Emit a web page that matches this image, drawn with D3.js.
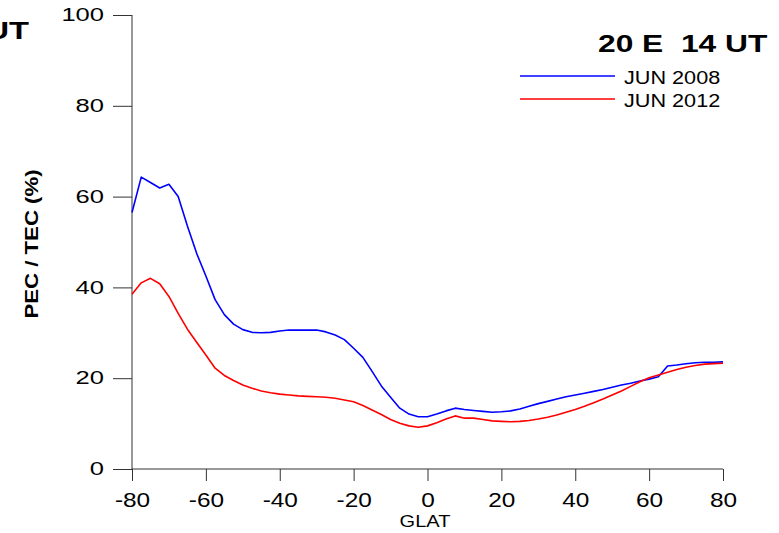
<!DOCTYPE html>
<html>
<head>
<meta charset="utf-8">
<script src="https://cdn.jsdelivr.net/npm/d3@7"></script>
<style>
  body { margin: 0; background: #fff; }
  svg { display: block; font-family: "Liberation Sans", Arial, sans-serif; }
  text { white-space: pre; }
</style>
</head>
<body>
<svg id="chart" width="779" height="533"></svg>
<script>
// geographic latitude, every 2.5 deg
const glat = [-80, -77.5, -75, -72.5, -70, -67.5, -65, -62.5, -60, -57.5, -55, -52.5, -50,
  -47.5, -45, -42.5, -40, -37.5, -35, -32.5, -30, -27.5, -25, -22.5, -20, -17.5, -15, -12.5,
  -10, -7.5, -5, -2.5, 0, 2.5, 5, 7.5, 10, 12.5, 15, 17.5, 20, 22.5, 25, 27.5, 30, 32.5, 35,
  37.5, 40, 42.5, 45, 47.5, 50, 52.5, 55, 57.5, 60, 62.5, 65, 67.5, 70, 72.5, 75, 77.5, 80]

const jun2008 = [56.5, 64.3, 63.1, 61.9, 62.7, 60.0, 53.5, 47.5, 42.5, 37.3, 34.0, 31.9, 30.7,
  30.1, 30.0, 30.1, 30.4, 30.6, 30.6, 30.6, 30.6, 30.2, 29.5, 28.5, 26.6, 24.6, 21.5, 18.3,
  15.8, 13.4, 12.1, 11.5, 11.5, 12.1, 12.8, 13.4, 13.1, 12.9, 12.7, 12.5, 12.6, 12.8, 13.2,
  13.8, 14.4, 14.9, 15.4, 15.9, 16.3, 16.7, 17.1, 17.5, 18.0, 18.5, 18.9, 19.4, 19.8, 20.3,
  22.7, 22.9, 23.2, 23.4, 23.5, 23.5, 23.6]

const jun2012 = [38.5, 41.0, 42.0, 40.8, 38.0, 34.3, 30.8, 27.9, 25.1, 22.2, 20.6, 19.5, 18.5,
  17.8, 17.2, 16.8, 16.5, 16.3, 16.1, 16.0, 15.9, 15.8, 15.6, 15.2, 14.8, 14.0, 13.0, 12.0,
  10.9, 10.1, 9.5, 9.2, 9.5, 10.2, 11.0, 11.7, 11.2, 11.2, 10.9, 10.6, 10.5, 10.4, 10.5,
  10.7, 11.0, 11.4, 11.9, 12.5, 13.1, 13.8, 14.6, 15.4, 16.3, 17.2, 18.2, 19.2, 20.1, 20.7,
  21.3, 21.9, 22.4, 22.8, 23.1, 23.2, 23.3]

const seriesNames = ["JUN 2008", "JUN 2012"]
const seriesColors = ["#0000ff", "#ff0000"]

const xTicks = [-80, -60, -40, -20, 0, 20, 40, 60, 80]
const xMinorTicks = [-70, -50, -30, -10, 10, 30, 50, 70]
const yTicks = [0, 20, 40, 60, 80, 100]
const yMinorTicks = [5, 10, 15, 25, 30, 35, 45, 50, 55, 65, 70, 75, 85, 90, 95]

const svg = d3.select("#chart")
const axisColor = "#333"

const x = d3.scaleLinear().domain([-80, 80]).range([132, 723])
const y = d3.scaleLinear().domain([0, 100]).range([469, 15])

// stretched text helper (the original fonts are wide)
function stretchText(parent, tx, ty, str, size, sx, opts = {}) {
    const g = parent.append("g")
        .attr("transform", `translate(${tx},${ty})${opts.rotate ? " rotate(" + opts.rotate + ")" : ""} scale(${sx},1)`)
    return g.append("text")
        .attr("font-size", size)
        .attr("font-weight", opts.bold ? "bold" : null)
        .attr("text-anchor", opts.anchor || "start")
        .attr("fill", "#000")
        .text(str)
}

const plainNum = d => String(d)   // hyphen minus, like the original

// y axis
const yAxis = svg.append("g").attr("transform", `translate(${x(-80)},0)`)
yAxis.call(d3.axisLeft(y).tickValues(yMinorTicks).tickSize(8).tickFormat(""))
yAxis.call(d3.axisLeft(y).tickValues(yTicks).tickSize(19).tickPadding(10).tickFormat(plainNum))
yAxis.select(".domain").remove()
yAxis.append("line").attr("y1", y(100)).attr("y2", y(0)).attr("stroke", axisColor)
yAxis.selectAll("line").attr("stroke", axisColor)
const ySx = 1.46
yAxis.selectAll("text")
    .attr("font-size", 17.5)
    .attr("font-family", "Liberation Sans, Arial, sans-serif")
    .attr("fill", "#000")
    .attr("x", -28 / ySx)
    .attr("transform", `scale(${ySx},1)`)

// x axis
const xAxis = svg.append("g").attr("transform", `translate(0,${y(0)})`)
xAxis.call(d3.axisBottom(x).tickValues(xMinorTicks).tickSize(5).tickFormat(""))
xAxis.call(d3.axisBottom(x).tickValues(xTicks).tickSize(12).tickPadding(12).tickFormat(plainNum))
xAxis.select(".domain").remove()
xAxis.append("line").attr("x1", x(-80)).attr("x2", x(80)).attr("stroke", axisColor)
xAxis.selectAll("line").attr("stroke", axisColor)
xAxis.selectAll("text")
    .attr("font-size", 20)
    .attr("font-family", "Liberation Sans, Arial, sans-serif")
    .attr("fill", "#000")
    .attr("transform", "scale(1.22,1)")

// curves
const line = d3.line().x((d, i) => x(glat[i])).y(d => y(d))
;[jun2008, jun2012].forEach((s, k) => {
    svg.append("path")
        .datum(s)
        .attr("fill", "none")
        .attr("stroke", seriesColors[k])
        .attr("stroke-width", 1.6)
        .attr("stroke-linejoin", "round")
        .attr("d", line)
})

// legend
seriesNames.forEach((name, k) => {
    const ly = 76 + k * 23
    svg.append("line")
        .attr("x1", 520).attr("x2", 615)
        .attr("y1", ly).attr("y2", ly)
        .attr("stroke", seriesColors[k])
        .attr("stroke-width", 1.4)
    stretchText(svg, 624, ly + 7.5, name, 18.5, 1.17)
})

// titles
stretchText(svg, 598, 52, "20 E  14 UT", 23, 1.38, { bold: true })
stretchText(svg, 29, 39, "UT", 23, 1.42, { bold: true, anchor: "end" })
stretchText(svg, 425, 527, "GLAT", 16, 1.25, { anchor: "middle" })
stretchText(svg, 38, 244, "PEC / TEC (%)", 18.5, 1.2, { bold: true, anchor: "middle", rotate: -90 })
</script>
</body>
</html>
